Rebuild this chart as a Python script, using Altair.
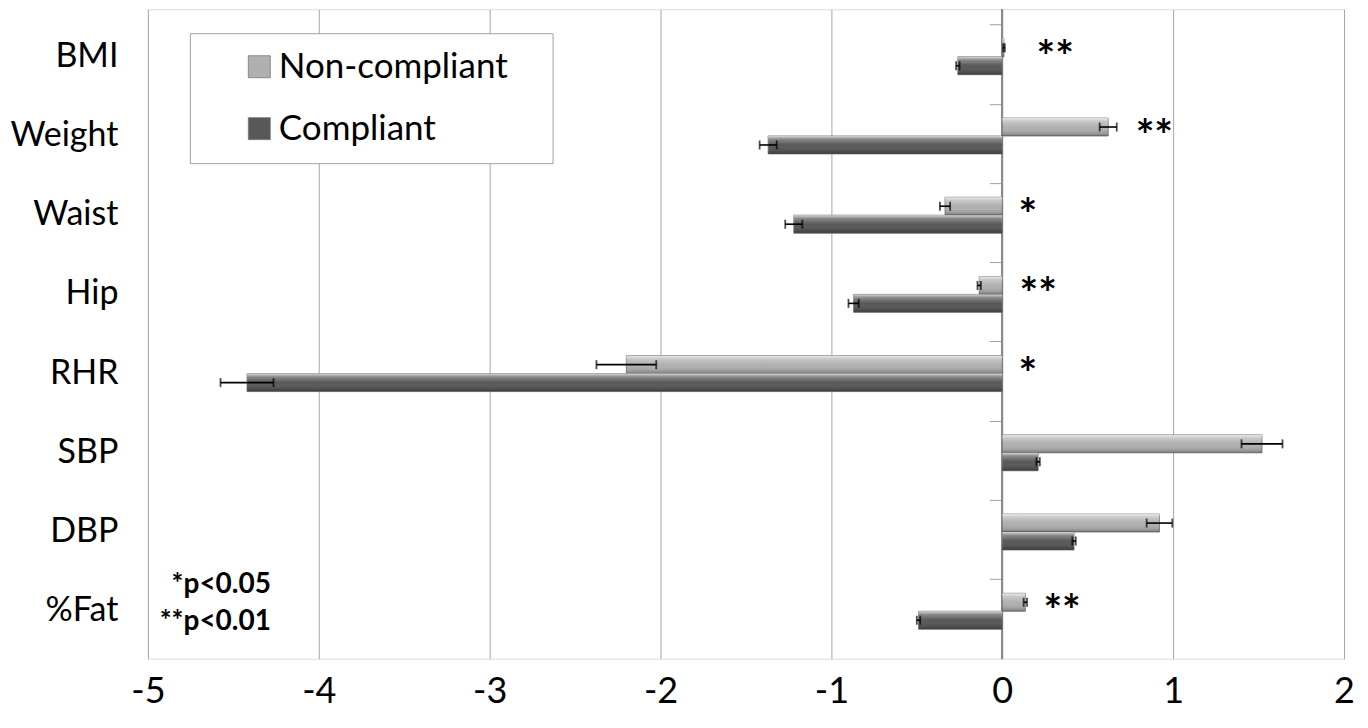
import altair as alt
import pandas as pd

categories = ["BMI", "Weight", "Waist", "Hip", "RHR", "SBP", "DBP", "%Fat"]
series_names = ["Non-compliant", "Compliant"]
noncompliant = [0.01, 0.62, -0.335, -0.135, -2.20, 1.52, 0.92, 0.135]
compliant = [-0.26, -1.37, -1.22, -0.87, -4.42, 0.21, 0.42, -0.49]
noncompliant_err = [0.005, 0.05, 0.03, 0.01, 0.175, 0.12, 0.075, 0.01]
compliant_err = [0.01, 0.05, 0.05, 0.03, 0.155, 0.01, 0.01, 0.01]
stars = ["**", "**", "*", "**", "*", "", "", "**"]
star_x = [0.31, 0.89, 0.15, 0.21, 0.15, 0.0, 0.0, 0.35]
x_ticks = [-5, -4, -3, -2, -1, 0, 1, 2]
note_text = "*p<0.05\n**p<0.01"

FONT = "Lato"

rows = []
for i, c in enumerate(categories):
    for s, vals, errs in ((series_names[0], noncompliant, noncompliant_err),
                          (series_names[1], compliant, compliant_err)):
        v, e = vals[i], errs[i]
        rows.append({"cat": c, "series": s, "value": v, "lo": v - e, "hi": v + e})
df = pd.DataFrame(rows)

star_df = pd.DataFrame({"cat": categories, "star": stars, "sx": star_x})
star_df = star_df[star_df["star"] != ""]

note_df = pd.DataFrame({"cat": ["%Fat"], "note": [note_text], "nx": [-4.28]})

xscale = alt.Scale(domain=[-5, 2], nice=False, zero=False)
y_plain = alt.Y("cat:N", sort=categories, axis=None)
yoff = alt.YOffset("series:N", sort=series_names,
                   scale=alt.Scale(paddingOuter=0.766, paddingInner=0))

base = alt.Chart(df)

bars = base.mark_bar(stroke="#6e6e6e", strokeWidth=0.8).encode(
    x=alt.X("value:Q", scale=xscale, title=None,
            axis=alt.Axis(values=x_ticks, grid=True, gridColor="#a6a6a6", gridWidth=1,
                          ticks=False, domain=False, labelFontSize=36, labelFont=FONT,
                          labelColor="black", labelPadding=16, labelFlush=False,
                          labelExpr="'' + datum.value")),
    x2=alt.X2("zero:Q"),
    y=alt.Y("cat:N", sort=categories, title=None,
            axis=alt.Axis(labelFontSize=34, labelFont=FONT, labelColor="black",
                          labelPadding=30, ticks=False, domain=False,
                          minExtent=140, maxExtent=140, orient="left")),
    yOffset=yoff,
    color=alt.Color("series:N", sort=series_names,
                    scale=alt.Scale(domain=series_names, range=["#b0b0b0", "#585858"]),
                    legend=alt.Legend(title="MM", titleOrient="right",
                                      titleFontSize=16, titlePadding=2,
                                      titleColor="rgba(0,0,0,0)",
                                      orient="none", legendX=42, legendY=24,
                                      fillColor="white", strokeColor="#a0a0a0",
                                      padding=16, symbolType="square", symbolSize=484,
                                      symbolOffset=36, labelFontSize=35, labelFont=FONT,
                                      labelColor="black", labelOffset=2, rowPadding=26,
                                      labelLimit=500,
                                      symbolStrokeColor="#777", symbolStrokeWidth=0.8)),
).transform_calculate(zero="0")

shine = base.mark_bar(
    color=alt.Gradient(
        gradient="linear", x1=0, y1=0, x2=0, y2=1,
        stops=[alt.GradientStop(offset=0, color="rgba(255,255,255,0.75)"),
               alt.GradientStop(offset=0.18, color="rgba(255,255,255,0.3)"),
               alt.GradientStop(offset=0.5, color="rgba(255,255,255,0.0)"),
               alt.GradientStop(offset=0.85, color="rgba(0,0,0,0.12)"),
               alt.GradientStop(offset=1, color="rgba(0,0,0,0.3)")])
).encode(
    x=alt.X("value:Q", scale=xscale),
    x2=alt.X2("zero:Q"),
    y=y_plain,
    yOffset=yoff,
).transform_calculate(zero="0")

err_rule = base.mark_rule(color="black", strokeWidth=1.6).encode(
    x=alt.X("lo:Q", scale=xscale),
    x2="hi:Q",
    y=y_plain,
    yOffset=yoff,
)
cap_lo = base.mark_tick(color="black", thickness=1.8, size=9).encode(
    x=alt.X("lo:Q", scale=xscale),
    y=y_plain,
    yOffset=yoff,
)
cap_hi = base.mark_tick(color="black", thickness=1.8, size=9).encode(
    x=alt.X("hi:Q", scale=xscale),
    y=y_plain,
    yOffset=yoff,
)

zero_line = base.mark_rule(color="#8c8c8c", strokeWidth=1.2).encode(x=alt.datum(0))

star_text = alt.Chart(star_df).mark_text(
    font=FONT, fontSize=44, fontWeight="bold", color="black", align="center",
    baseline="middle", dy=2
).encode(
    x=alt.X("sx:Q", scale=xscale),
    y=alt.Y("cat:N", sort=categories,
            axis=alt.Axis(orient="left", offset=-855, labels=False, ticks=True,
                          tickSize=13, tickColor="#a0a0a0", tickWidth=1,
                          bandPosition=0, domain=False, title=None,
                          minExtent=0, maxExtent=0)),
    text="star:N",
)

notes = alt.Chart(note_df).mark_text(
    font=FONT, fontSize=28, fontWeight="bold", color="black", align="right",
    baseline="middle", lineBreak="\n", lineHeight=37, dy=-26
).encode(
    x=alt.X("nx:Q", scale=xscale),
    y=y_plain,
    text="note:N",
)

chart = alt.layer(
    zero_line, bars, shine, err_rule, cap_lo, cap_hi, star_text, notes
).resolve_axis(y="independent").properties(
    width=1197, height=650,
    padding={"left": 0, "top": 0, "right": 5, "bottom": 0},
).configure_view(stroke="#a0a0a0", strokeWidth=1.2).configure(background="white")

chart.save("out.html", embed_options={"renderer": "svg", "actions": False})
